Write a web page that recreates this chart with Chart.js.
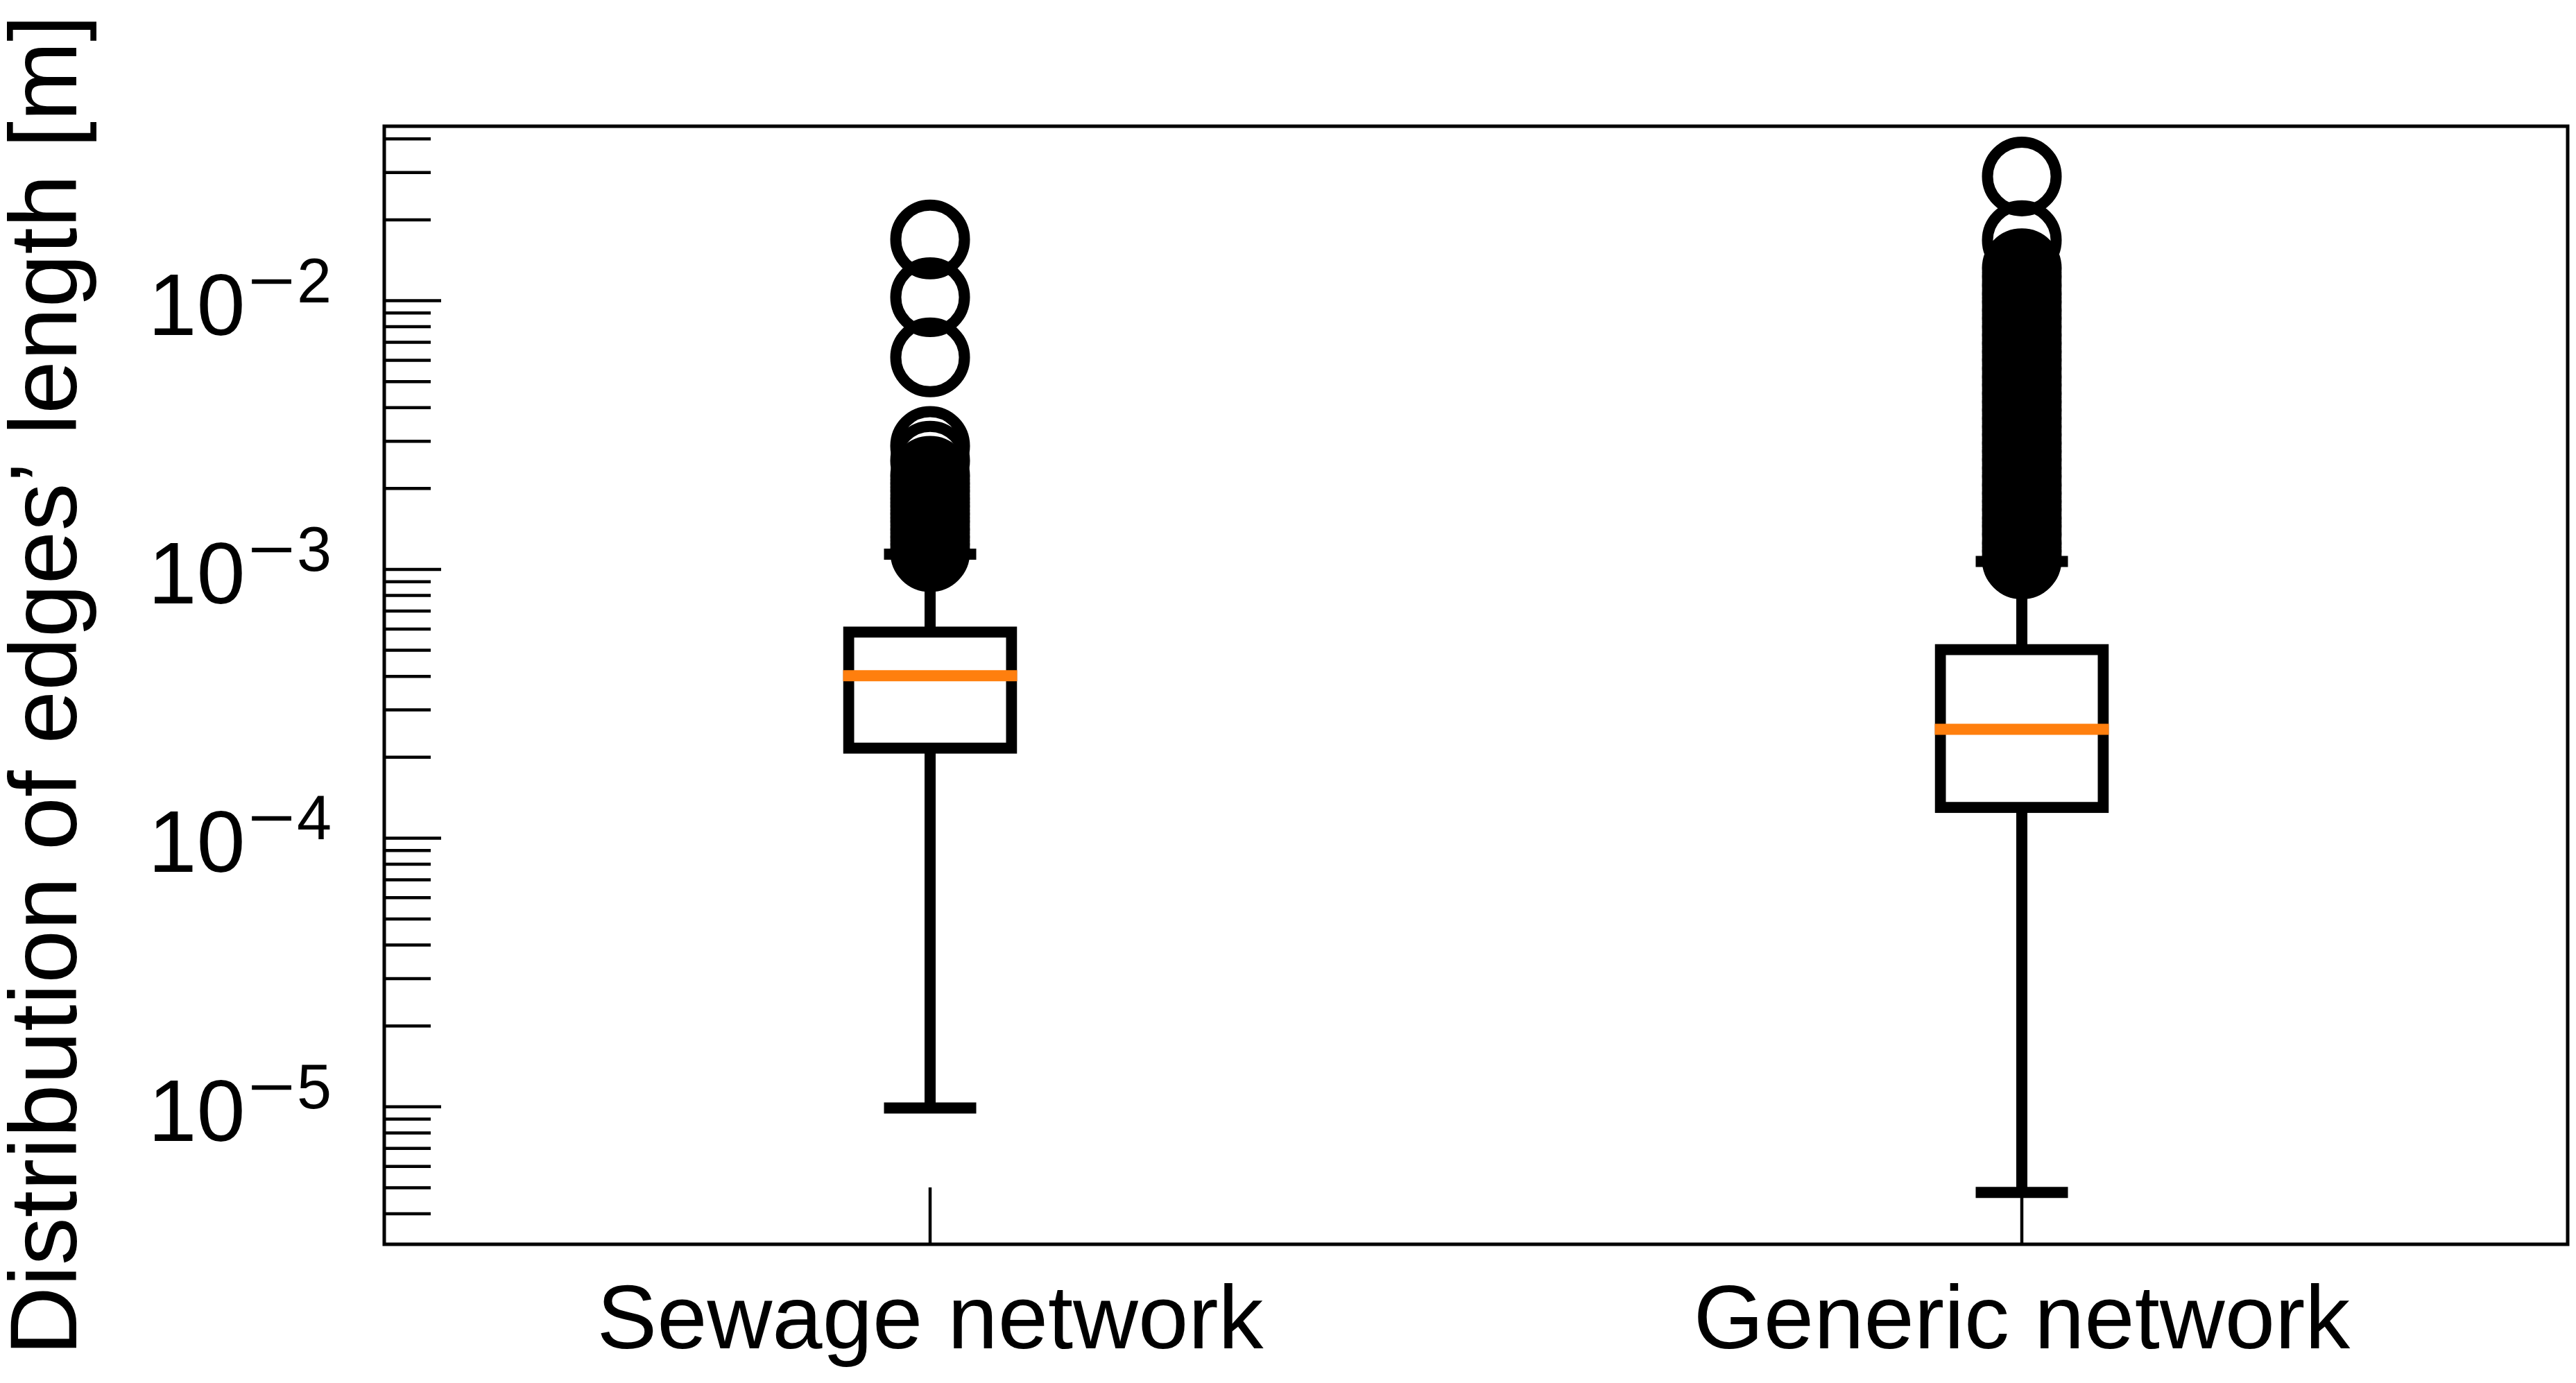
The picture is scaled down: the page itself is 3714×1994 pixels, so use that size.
<!DOCTYPE html>
<html>
<head>
<meta charset="utf-8">
<script src="https://cdn.jsdelivr.net/npm/chart.js@4/dist/chart.umd.min.js"></script>
<style>
html, body { margin: 0; padding: 0; background: #ffffff; overflow: hidden; }
#wrap { width: 3714px; height: 1994px; }
canvas { display: block; }
</style>
</head>
<body>
<div id="wrap"><canvas id="c" width="3714" height="1994"></canvas></div>
<script>
// ---- data ----
const categories = ['Sewage network', 'Generic network'];
const q1 = [2.16e-4, 1.30e-4];
const medians = [4.02e-4, 2.54e-4];
const q3 = [5.85e-4, 5.03e-4];
const whiskerLow = [9.9e-6, 4.8e-6];
const whiskerHigh = [1.14e-3, 1.07e-3];
const sewageOutliers = [0.0169, 0.0103, 0.00615, 0.00288, 0.00254, 0.00223, 0.00209, 0.00196,
  0.00183, 0.00172, 0.00161, 0.00151, 0.00141, 0.00132, 0.00124, 0.00116];
const genericOutliers = [0.0290, 0.0168, 0.0132, 0.0123, 0.0114, 0.0106, 0.0099, 0.0092, 0.0086,
  0.0080, 0.00745, 0.00694, 0.00646, 0.00602, 0.0056, 0.0052, 0.00486, 0.00452, 0.00421,
  0.00392, 0.00365, 0.0034, 0.00317, 0.00295, 0.00275, 0.00256, 0.00238, 0.00222, 0.00206,
  0.00192, 0.00179, 0.00167, 0.00155, 0.00145, 0.00135, 0.00125, 0.00117, 0.00109];

// ---- axis ----
const yMin = 3.08e-6;
const yMax = 4.46e-2;
const yMajorTicks = [1e-5, 1e-4, 1e-3, 1e-2];
const yTickBase = '10';
const yTickExponents = ['\u22125', '\u22124', '\u22123', '\u22122'];
const yDecades = [1e-6, 1e-5, 1e-4, 1e-3, 1e-2];
const yMinorMultipliers = [2, 3, 4, 5, 6, 7, 8, 9];
const yTitle = 'Distribution of edges\u2019 length [m]';

const FONT = '"Liberation Sans", Arial, sans-serif';
const ORANGE = '#ff7f0e';

const mplAxes = {
  id: 'mplAxes',
  afterDraw(chart) {
    const { ctx, chartArea: a, scales } = chart;
    const xs = scales.x, ys = scales.y;
    ctx.save();
    ctx.strokeStyle = '#000';
    ctx.lineCap = 'butt';
    const seg = (x1, y1, x2, y2) => { ctx.beginPath(); ctx.moveTo(x1, y1); ctx.lineTo(x2, y2); ctx.stroke(); };
    ctx.lineWidth = 4.5;
    yMajorTicks.forEach(v => { const py = ys.getPixelForValue(v); seg(a.left, py, a.left + 82, py); });
    yDecades.forEach(d => yMinorMultipliers.forEach(m => {
      const v = d * m;
      if (v < yMin || v > yMax) return;
      const py = ys.getPixelForValue(v);
      seg(a.left, py, a.left + 67, py);
    }));
    categories.forEach((c, i) => { const px = xs.getPixelForValue(i); seg(px, a.bottom, px, a.bottom - 82); });
    ctx.lineWidth = 5;
    ctx.strokeRect(a.left, a.top, a.right - a.left, a.bottom - a.top);
    // y tick labels 10^-n  (minus drawn a little wider, as in TeX)
    ctx.fillStyle = '#000';
    ctx.textBaseline = 'alphabetic';
    ctx.textAlign = 'left';
    yMajorTicks.forEach((v, i) => {
      const py = ys.getPixelForValue(v);
      const rightX = a.left - 76;
      const exp = yTickExponents[i];
      const minus = exp.charAt(0), digits = exp.slice(1);
      ctx.font = '90px ' + FONT;
      const dw = ctx.measureText(digits).width;
      const mw = ctx.measureText(minus).width;
      const stretch = 1.3;
      const digitX = rightX - dw;
      ctx.fillText(digits, digitX, py + 2);
      const minusX = digitX - mw * stretch - 2;
      ctx.save();
      ctx.translate(minusX, py + 2);
      ctx.scale(stretch, 1);
      ctx.fillText(minus, 0, 0);
      ctx.restore();
      ctx.font = '126px ' + FONT;
      const bw = ctx.measureText(yTickBase).width;
      ctx.fillText(yTickBase, minusX - bw - 4, py + 49);
    });
    ctx.restore();
  }
};

const barCommon = { type: 'bar', grouped: false, borderSkipped: false };

const datasets = [
  Object.assign({}, barCommon, {
    label: 'median', data: medians.map(v => [v, v]),
    backgroundColor: ORANGE, borderWidth: 0, barThickness: 235, inflateAmount: 8
  }),
  Object.assign({}, barCommon, {
    label: 'box', data: q1.map((v, i) => [v, q3[i]]),
    backgroundColor: '#ffffff', borderColor: '#000000', borderWidth: 16, barThickness: 235, inflateAmount: 8
  }),
  Object.assign({}, barCommon, {
    label: 'lower whisker', data: whiskerLow.map((v, i) => [v, q1[i]]),
    backgroundColor: '#000000', borderWidth: 0, barThickness: 16, inflateAmount: 0
  }),
  Object.assign({}, barCommon, {
    label: 'upper whisker', data: q3.map((v, i) => [v, whiskerHigh[i]]),
    backgroundColor: '#000000', borderWidth: 0, barThickness: 16, inflateAmount: 0
  }),
  Object.assign({}, barCommon, {
    label: 'lower cap', data: whiskerLow.map(v => [v, v]),
    backgroundColor: '#000000', borderWidth: 0, barThickness: 117, inflateAmount: 8
  }),
  Object.assign({}, barCommon, {
    label: 'upper cap', data: whiskerHigh.map(v => [v, v]),
    backgroundColor: '#000000', borderWidth: 0, barThickness: 117, inflateAmount: 8
  }),
  {
    type: 'line', label: 'Sewage outliers', showLine: false,
    data: sewageOutliers.map(v => ({ x: categories[0], y: v })),
    pointStyle: 'circle', pointRadius: 49.5, pointHoverRadius: 49.5, pointBorderWidth: 16,
    pointBorderColor: '#000000', pointBackgroundColor: 'rgba(0,0,0,0)'
  },
  {
    type: 'line', label: 'Generic outliers', showLine: false,
    data: genericOutliers.map(v => ({ x: categories[1], y: v })),
    pointStyle: 'circle', pointRadius: 49.5, pointHoverRadius: 49.5, pointBorderWidth: 16,
    pointBorderColor: '#000000', pointBackgroundColor: 'rgba(0,0,0,0)'
  }
];

new Chart(document.getElementById('c'), {
  type: 'bar',
  data: { labels: categories, datasets },
  options: {
    responsive: false,
    animation: false,
    devicePixelRatio: 1,
    events: [],
    layout: { autoPadding: false, padding: { top: 182, right: 12, bottom: 0, left: 0 } },
    plugins: { legend: { display: false }, tooltip: { enabled: false } },
    scales: {
      x: {
        type: 'category',
        offset: true,
        grid: { display: false, drawTicks: false },
        border: { display: false },
        ticks: { color: '#000', font: { family: FONT, size: 130 }, padding: 36, maxRotation: 0 },
        afterFit: s => { s.height = 200; s.paddingLeft = 0; s.paddingRight = 0; }
      },
      y: {
        type: 'logarithmic',
        min: yMin,
        max: yMax,
        grid: { display: false, drawTicks: false },
        border: { display: false },
        ticks: { display: false },
        title: { display: true, text: yTitle, color: '#000', padding: 0,
                 font: { family: FONT, size: 138, lineHeight: 1.05 } },
        afterFit: s => { s.width = 554; s.paddingTop = 0; s.paddingBottom = 0; }
      }
    }
  },
  plugins: [mplAxes]
});
</script>
</body>
</html>
